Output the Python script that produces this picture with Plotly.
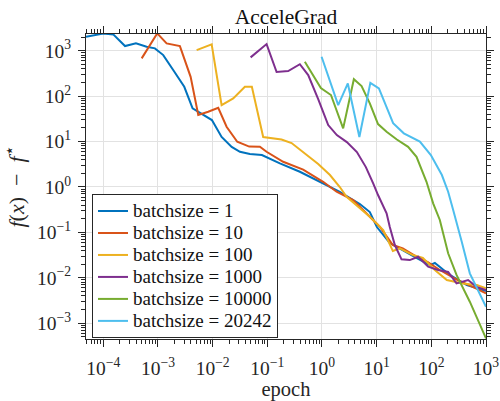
import plotly.graph_objects as go

# ---- data (epoch, f(x) - f*) ----
bs1_x = [4.83e-5, 1.0e-4, 1.52e-4, 2.5e-4, 3.96e-4, 6.2e-4, 8.8e-4, 1.25e-3, 1.9e-3, 3.03e-3, 4.3e-3,
         6.3e-3, 9.7e-3, 0.0146, 0.0223, 0.0316, 0.048, 0.0797, 0.112, 0.170, 0.394, 0.915, 2.12, 3.24,
         4.93, 7.5, 10.1, 17.4, 28.9, 54.3, 94, 116, 218, 446, 1000]
bs1_y = [2030, 2400, 2300, 1270, 1455, 1225, 1130, 804, 376, 161, 54,
         40, 29.8, 12.6, 7.6, 5.96, 5.3, 5.05, 4.12, 3.31, 2.16, 1.30, 0.784, 0.570,
         0.42, 0.28, 0.131, 0.058, 0.0407, 0.0272, 0.019, 0.0211, 0.0115, 0.0069, 0.0051]

bs10_x = [5.04e-4, 9.7e-4, 1.44e-3, 2.52e-3, 3.96e-3, 5.46e-3, 8.3e-3, 0.01266, 0.018, 0.0282, 0.0467,
          0.0732, 0.097, 0.195, 0.453, 1.05, 1.85, 3.72, 7.5, 11.4, 19.8, 30.1, 54.3, 86.3, 143,
          292, 574, 1000]
bs10_y = [681, 2415, 1455, 1270, 267, 38.4, 45.3, 55.5, 21.2, 9.9, 7.76,
          7.67, 5.96, 3.59, 2.42, 1.30, 0.784, 0.514, 0.221, 0.133, 0.0525, 0.0444, 0.029, 0.0222, 0.0148,
          0.0091, 0.0063, 0.0045]

bs100_x = [5.1e-3, 9.6e-3, 0.0146, 0.0238, 0.0389, 0.0522, 0.0841, 0.182, 0.278, 0.486, 0.853, 1.40,
           2.12, 2.82, 4.29, 7.5, 13.2, 19.8, 26.6, 45.9, 70, 116, 192, 377, 679, 1000]
bs100_y = [1036, 1384, 63.7, 89.5, 161, 161, 12.6, 11.1, 9.27, 5.58, 3.19, 1.83,
           0.995, 0.608, 0.399, 0.221, 0.112, 0.0387, 0.0444, 0.0316, 0.0272, 0.0148, 0.0089, 0.0075, 0.0069, 0.00585]

bs1000_x = [0.0495, 0.097, 0.148, 0.241, 0.394, 0.56, 0.853, 1.30, 1.87, 2.85, 4.35, 6.35, 8.64, 10.6,
            15.2, 17.4, 21.5, 28.5, 40.4, 57.4, 87.5, 133, 203, 289, 471, 670, 1000]
bs1000_y = [716, 1406, 340, 357, 505, 292, 86.3, 23.1, 13.9, 9.75, 5.87, 2.74, 1.20, 0.664,
            0.262, 0.131, 0.0525, 0.0254, 0.0245, 0.029, 0.0175, 0.0148, 0.0134, 0.0075, 0.0089, 0.0063, 0.00536]

bs10000_x = [0.486, 0.955, 1.46, 2.44, 3.83, 5.3, 7.5, 10.6, 15.2, 23.4, 37.6, 53.6, 81.6, 108, 143,
             203, 289, 506, 1000]
bs10000_y = [573, 151, 106, 19.5, 236, 167, 69.4, 24.3, 16.4, 11.1, 7.67, 4.62, 1.30, 0.435, 0.187,
             0.0345, 0.0115, 0.00296, 0.00046]

bs20242_x = [0.984, 1.98, 2.97, 4.83, 7.67, 11.0, 20.0, 31.4, 61.7, 98, 156, 203, 251, 309, 361,
             506, 718, 1000]
bs20242_y = [738, 63.7, 191, 12.6, 197, 149, 25.5, 15.2, 10.0, 5.05, 1.83, 0.784, 0.31, 0.112, 0.061,
             0.0125, 0.00536, 0.0023]

series_names = ["batchsize = 1", "batchsize = 10", "batchsize = 100",
                "batchsize = 1000", "batchsize = 10000", "batchsize = 20242"]
series_x = [bs1_x, bs10_x, bs100_x, bs1000_x, bs10000_x, bs20242_x]
series_y = [bs1_y, bs10_y, bs100_y, bs1000_y, bs10000_y, bs20242_y]
colors = ["#0072BD", "#D95319", "#EDB120", "#7E2F8E", "#77AC30", "#4DBEEE"]

x_tickvals = [1e-4, 1e-3, 1e-2, 1e-1, 1e0, 1e1, 1e2, 1e3]
x_ticktext = ["10<sup>−4</sup>", "10<sup>−3</sup>", "10<sup>−2</sup>", "10<sup>−1</sup>",
              "10<sup>0</sup>", "10<sup>1</sup>", "10<sup>2</sup>", "10<sup>3</sup>"]
y_tickvals = [1e-3, 1e-2, 1e-1, 1e0, 1e1, 1e2, 1e3]
y_ticktext = ["10<sup>−3</sup>", "10<sup>−2</sup>", "10<sup>−1</sup>", "10<sup>0</sup>",
              "10<sup>1</sup>", "10<sup>2</sup>", "10<sup>3</sup>"]

FONT = "Liberation Serif"
AX = "#262626"

fig = go.Figure()
for name, xs, ys, c in zip(series_names, series_x, series_y, colors):
    fig.add_trace(go.Scatter(x=xs, y=ys, mode="lines",
                             name="<span style='font-size:19px'>" + name + "</span>",
                             line=dict(color=c, width=2)))

axis_common = dict(
    type="log", showline=True, linecolor=AX, linewidth=1, mirror="ticks",
    ticks="outside", ticklen=7, tickwidth=1, tickcolor=AX, automargin=False,
    showgrid=True, gridcolor="#e2e2e2", gridwidth=1, zeroline=False,
    tickfont=dict(family=FONT, size=19.5, color="#262626"),
    minor=dict(dtick="D1", ticks="outside", ticklen=4, tickcolor=AX, showgrid=False),
)

fig.update_layout(
    width=500, height=401,
    margin=dict(l=86, r=14, t=34, b=62),
    paper_bgcolor="white", plot_bgcolor="white",
    title=dict(text="AcceleGrad", x=0.572, xanchor="center", y=0.958, yanchor="middle",
               automargin=False,
               font=dict(family=FONT, size=21.5, color="#111")),
    xaxis=dict(axis_common, range=[-4.316, 3.0], tickvals=x_tickvals, ticktext=x_ticktext,
               ticklabelstandoff=5,
               title=dict(text="epoch", font=dict(family=FONT, size=20.5, color="#262626"), standoff=4)),
    yaxis=dict(axis_common, range=[-3.35, 3.37], tickvals=y_tickvals, ticktext=y_ticktext,
               ticklabelstandoff=3,
               title=dict(text="<i>f</i>(<i>x</i>)\u2002−\u2002<i>f</i><sup><span style='font-size:17px'>⋆</span></sup>",
                          font=dict(family=FONT, size=22, color="#262626"), standoff=8)),
    showlegend=True,
    legend=dict(x=0.015, y=0.4754, xanchor="left", yanchor="top",
                bgcolor="white", bordercolor=AX, borderwidth=1,
                font=dict(family=FONT, size=14.6, color="#111"),
                tracegroupgap=0, itemwidth=30),
)

fig.write_html("out.html", config={"displayModeBar": False},
               post_script="document.body.style.margin='0px';")
